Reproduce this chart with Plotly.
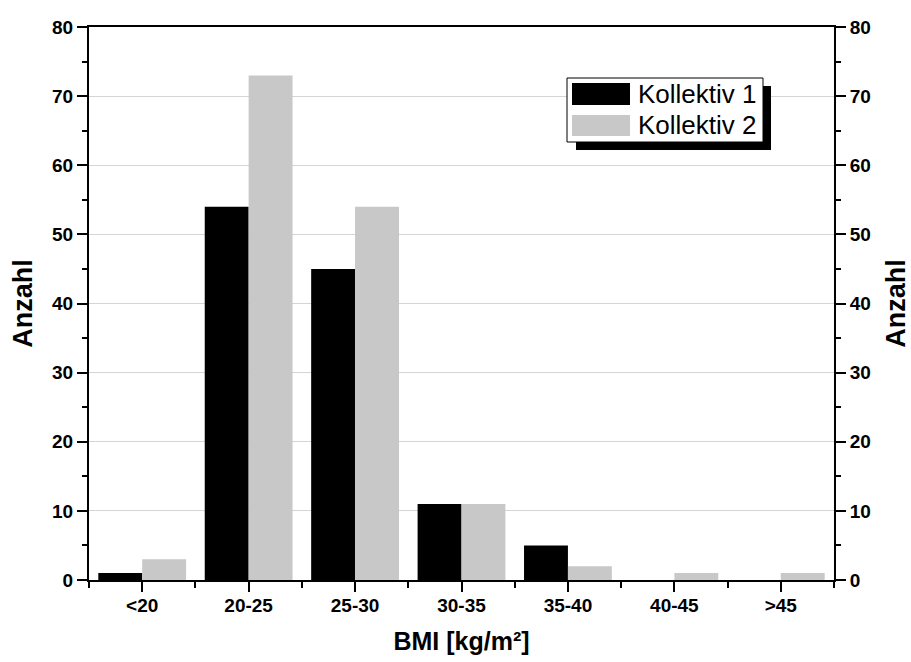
import plotly.graph_objects as go

# BMI classes and counts per group
categories = ["<20", "20-25", "25-30", "30-35", "35-40", "40-45", ">45"]
kollektiv_1 = [1, 54, 45, 11, 5, 0, 0]
kollektiv_2 = [3, 73, 54, 11, 2, 1, 1]
series_names = ["Kollektiv 1", "Kollektiv 2"]
y_ticks = [0, 10, 20, 30, 40, 50, 60, 70, 80]

W, H = 911, 662
L, R, T, B = 89, 77, 27, 82
PW, PH = W - L - R, H - T - B

x_pos = list(range(len(categories)))
font_fam = "Liberation Sans, Arial, sans-serif"
grey = "#c8c8c8"

fig = go.Figure()
fig.add_trace(go.Bar(x=x_pos, y=kollektiv_1, name=series_names[0],
                     marker=dict(color="black", line=dict(width=0)), showlegend=False))
fig.add_trace(go.Bar(x=x_pos, y=kollektiv_2, name=series_names[1],
                     marker=dict(color=grey, line=dict(width=0)), showlegend=False))
# carries the right-hand axis
fig.add_trace(go.Scatter(x=x_pos, y=kollektiv_2, yaxis="y2", mode="none",
                         hoverinfo="skip", showlegend=False))

tick_font = dict(family=font_fam, size=19, color="black", weight="bold")
x_title_font = dict(family=font_fam, size=25, color="black", weight="bold")
y_title_font = dict(family=font_fam, size=27, color="black", weight="bold")


def y_axis(standoff):
    return dict(
        range=[0, 80], tickvals=y_ticks, ticks="outside", ticklen=10, tickwidth=2,
        tickcolor="black", showline=True, linecolor="black", linewidth=2,
        tickfont=tick_font, zeroline=False, automargin=False,
        minor=dict(dtick=5, tick0=0, ticks="outside", ticklen=5, tickwidth=2,
                   tickcolor="black", showgrid=False),
        title=dict(text="Anzahl", font=y_title_font, standoff=standoff),
    )


fig.update_layout(
    width=W, height=H,
    margin=dict(l=L, r=R, t=T, b=B, pad=0, autoexpand=False),
    paper_bgcolor="white", plot_bgcolor="white",
    barmode="group", bargap=0.175, bargroupgap=0,
    xaxis=dict(
        range=[-0.5, len(categories) - 0.5], tickvals=x_pos, ticktext=categories,
        ticks="outside", ticklen=10, tickwidth=2, tickcolor="black",
        showline=True, linecolor="black", linewidth=2, mirror=True,
        showgrid=False, zeroline=False, tickfont=tick_font, automargin=False,
        ticklabelstandoff=-3,
        minor=dict(dtick=1, tick0=-0.5, ticks="outside", ticklen=6, tickwidth=2,
                   tickcolor="black", showgrid=False),
        title=dict(text="BMI [kg/m²]", font=x_title_font, standoff=18),
    ),
    yaxis=dict(**y_axis(12), showgrid=True, gridcolor="#d4d4d4", gridwidth=1),
    yaxis2=dict(**y_axis(22), overlaying="y", side="right", showgrid=False),
)


def px_x(p):
    return (p - L) / PW


def px_y(p):
    return (H - B - p) / PH


# legend with drop shadow
shapes = [
    dict(type="rect", xref="paper", yref="paper", x0=px_x(576), x1=px_x(771),
         y0=px_y(150), y1=px_y(86), fillcolor="black", line=dict(width=0)),
    dict(type="rect", xref="paper", yref="paper", x0=px_x(567), x1=px_x(763),
         y0=px_y(142), y1=px_y(78), fillcolor="white", line=dict(color="black", width=1)),
    dict(type="rect", xref="paper", yref="paper", x0=px_x(572), x1=px_x(630),
         y0=px_y(105), y1=px_y(83), fillcolor="black", line=dict(width=0)),
    dict(type="rect", xref="paper", yref="paper", x0=px_x(572), x1=px_x(630),
         y0=px_y(136), y1=px_y(115), fillcolor=grey, line=dict(width=0)),
]
fig.update_layout(shapes=shapes)
for name, yc in zip(series_names, [94, 125.5]):
    fig.add_annotation(x=px_x(636), y=px_y(yc), xref="paper", yref="paper",
                       text=name, showarrow=False, xanchor="left", yanchor="middle",
                       font=dict(family=font_fam, size=26, color="black"))

fig.write_html("out.html")
